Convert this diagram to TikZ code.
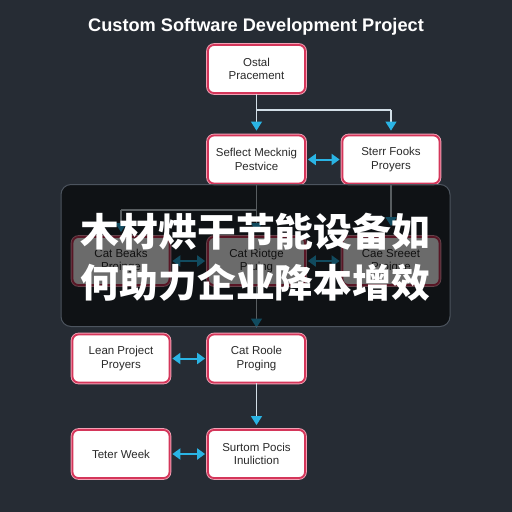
\documentclass[tikz,border=0pt]{standalone}
\usepackage{fontspec}
\setmainfont{Liberation Sans}
\newfontfamily\cjk{Noto Sans CJK SC}
\usetikzlibrary{arrows.meta}
\definecolor{bgc}{HTML}{262C34}
\definecolor{boxred}{HTML}{D4365A}
\definecolor{glow}{HTML}{F2A0B4}
\definecolor{txt}{HTML}{2A2A2A}
\definecolor{cyanc}{HTML}{2AB4E4}
\definecolor{linec}{HTML}{D2DEE6}
\definecolor{ovborder}{HTML}{4C545E}
\tikzset{
  stepbox/.style={rectangle, rounded corners=6pt, draw=boxred, line width=1.8pt,
    fill=white, minimum width=97pt, minimum height=48pt, text=txt,
    font=\fontsize{11.5}{13.5}\selectfont, align=center, inner sep=2pt},
  glowbox/.style={preaction={draw=glow, line width=3.6pt, rounded corners=6pt}},
  flow/.style={draw=linec, line width=1.1pt, -{Triangle[width=11pt,length=9pt,color=cyanc]}, shorten >=4pt},
  plain/.style={draw=linec, line width=1.1pt},
  twoway/.style={draw=cyanc, line width=2pt, {Triangle[width=11pt,length=8pt]}-{Triangle[width=11pt,length=8pt]}, shorten >=2pt, shorten <=2pt},
}
\begin{document}
\begin{tikzpicture}[x=1pt,y=-1pt]
\useasboundingbox (0,0) rectangle (512,512);
\fill[bgc] (0,0) rectangle (512,512);

\node[text=white, font=\bfseries\fontsize{18.2}{22}\selectfont] (title) at (256,27) {Custom Software Development Project};

\node[stepbox, glowbox] (A) at (256.5,69) {Ostal\\Pracement};
\node[stepbox, glowbox] (B) at (256.5,159.5) {Seflect Mecknig\\Pestvice};
\node[stepbox, glowbox] (C) at (391,159.5) {Sterr Fooks\\Proyers};
\node[stepbox, glowbox] (D) at (121,261) {Cat Beaks\\Proinge};
\node[stepbox, glowbox] (E) at (256.5,261) {Cat Riotge\\Pruing};
\node[stepbox, glowbox] (F) at (391,261) {Cae Sreeet\\Proigne};
\node[stepbox, glowbox] (G) at (121,358.5) {Lean Project\\Proyers};
\node[stepbox, glowbox] (H) at (256.5,358.5) {Cat Roole\\Proging};
\node[stepbox, glowbox] (I) at (256.5,454) {Surtom Pocis\\Inuliction};
\node[stepbox, glowbox] (J) at (121,454) {Teter Week};

\coordinate (ab) at (256.5,110);
\coordinate (abr) at (391,110);
\coordinate (be) at (256.5,210);
\coordinate (bel) at (121,210);

\draw[flow] (A.south) -- (B.north);
\draw[plain] (ab) -- (abr);
\draw[flow] (abr) -- (C.north);
\draw[twoway] (B.east) -- (C.west);

\draw[flow] (B.south) -- (E.north);
\draw[plain] (be) -- (bel);
\draw[flow] (bel) -- (D.north);
\draw[flow, shorten >=10pt] (C.south) -- (F.north);
\draw[twoway] (D.east) -- (E.west);
\draw[twoway] (E.east) -- (F.west);
\draw[flow, shorten >=6pt] (E.south) -- (H.north);

\draw[twoway] (G.east) -- (H.west);
\draw[flow] (H.south) -- (I.north);
\draw[twoway] (J.east) -- (I.west);

\draw[draw=ovborder, line width=1pt, fill=black, fill opacity=0.58, rounded corners=10pt] (61,184.5) rectangle (450,326.5);
\node[text=white, font=\cjk\bfseries\fontsize{38.8}{46}\selectfont, inner sep=0pt] (zh1) at (255.5,232) {木材烘干节能设备如};
\node[text=white, font=\cjk\bfseries\fontsize{38.8}{46}\selectfont, inner sep=0pt] (zh2) at (255.5,283) {何助力企业降本增效};
\end{tikzpicture}
\end{document}
